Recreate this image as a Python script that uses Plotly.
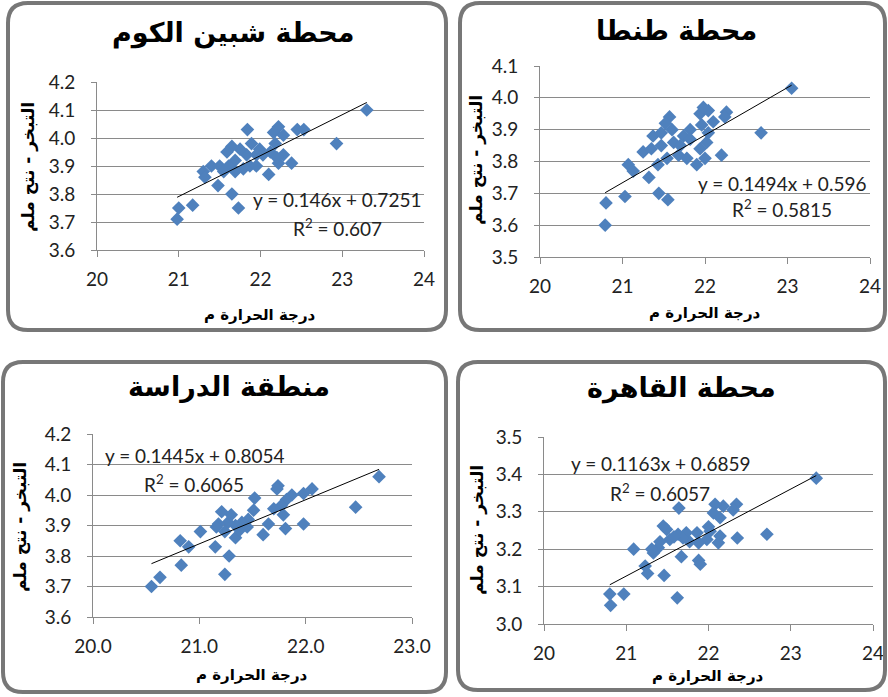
import plotly.graph_objects as go

W, H = 888, 697

# ---- data -------------------------------------------------------------
titles = ["محطة شبين الكوم", "محطة طنطا", "منطقة الدراسة", "محطة القاهرة"]
x_title = "درجة الحرارة م"
y_title = "التبخر - نتح ملم"

x_shebin = [23.30, 22.93, 21.84, 20.98, 21.00, 21.17, 21.65, 21.73, 21.30, 21.32,
            21.48, 21.40, 21.50, 22.10, 22.38, 22.22, 22.16, 22.45, 22.53, 22.28,
            22.18, 22.28, 22.22, 21.99, 21.95, 21.83, 21.75, 21.65, 21.59, 21.69,
            21.79, 21.87, 21.95, 22.03, 22.12, 21.61, 21.69, 21.55, 22.20, 21.89]
y_shebin = [4.10, 3.98, 4.03, 3.71, 3.75, 3.76, 3.80, 3.75, 3.88, 3.86,
            3.83, 3.90, 3.90, 3.87, 3.91, 4.04, 4.02, 4.03, 4.03, 4.01,
            3.98, 3.94, 3.91, 3.96, 3.94, 3.94, 3.96, 3.97, 3.95, 3.92,
            3.89, 3.90, 3.90, 3.94, 3.95, 3.90, 3.88, 3.88, 3.93, 3.98]

x_tanta = [23.05, 22.68, 21.57, 20.79, 20.80, 21.03, 21.07, 21.13, 21.32, 21.44,
           21.55, 22.20, 21.25, 21.37, 21.47, 21.47, 21.62, 21.74, 21.82, 21.54,
           21.68, 21.90, 22.00, 21.94, 22.02, 21.94, 22.04, 21.98, 22.26, 22.24,
           22.10, 21.96, 21.82, 21.70, 21.35, 21.43, 21.78, 22.04, 21.60, 21.52]
y_tanta = [4.03, 3.89, 3.94, 3.60, 3.67, 3.69, 3.79, 3.77, 3.75, 3.70,
           3.68, 3.82, 3.83, 3.88, 3.89, 3.85, 3.86, 3.88, 3.90, 3.81,
           3.82, 3.79, 3.81, 3.84, 3.86, 3.95, 3.96, 3.97, 3.955, 3.94,
           3.925, 3.915, 3.87, 3.85, 3.84, 3.79, 3.81, 3.89, 3.90, 3.92]

x_study = [22.69, 22.47, 20.55, 20.63, 20.83, 20.82, 20.90, 21.01, 21.15, 21.24,
           21.28, 21.60, 21.81, 21.98, 21.74, 21.73, 22.06, 21.98, 21.87, 21.82,
           21.77, 21.79, 21.70, 21.65, 21.52, 21.51, 21.46, 21.40, 21.34, 21.34,
           21.27, 21.21, 21.18, 21.16, 21.30, 21.38, 21.45, 21.24]
y_study = [4.06, 3.96, 3.70, 3.73, 3.77, 3.85, 3.83, 3.88, 3.83, 3.74,
           3.80, 3.87, 3.89, 3.905, 4.03, 4.02, 4.02, 4.005, 4.00, 3.985,
           3.965, 3.935, 3.955, 3.905, 3.99, 3.95, 3.92, 3.91, 3.86, 3.90,
           3.91, 3.945, 3.905, 3.895, 3.935, 3.885, 3.895, 3.88]

x_cairo = [23.31, 22.71, 21.64, 20.80, 20.81, 20.97, 21.62, 21.09, 21.23, 21.26,
           21.46, 21.67, 21.88, 21.90, 22.35, 22.34, 22.30, 22.18, 22.08, 22.06,
           22.14, 22.00, 22.14, 22.12, 21.98, 21.88, 21.86, 21.73, 21.63, 21.49,
           21.45, 21.53, 21.39, 21.33, 21.31, 21.77, 21.69, 22.02, 21.41, 21.58]
y_cairo = [3.39, 3.24, 3.31, 3.08, 3.05, 3.08, 3.07, 3.20, 3.155, 3.135,
           3.13, 3.18, 3.17, 3.16, 3.23, 3.32, 3.305, 3.315, 3.32, 3.297,
           3.284, 3.26, 3.235, 3.217, 3.226, 3.217, 3.244, 3.244, 3.24, 3.253,
           3.262, 3.226, 3.204, 3.19, 3.20, 3.22, 3.23, 3.248, 3.22, 3.233]

# linear trend coefficients (slope, intercept) and R² as labelled
slopes = [0.146, 0.1494, 0.1445, 0.1163]
intercepts = [0.7251, 0.596, 0.8054, 0.6859]
r2_labels = ["0.607", "0.5815", "0.6065", "0.6057"]

x_ranges = [[20, 24], [20, 24], [20, 23], [20, 24]]
y_ranges = [[3.6, 4.2], [3.5, 4.1], [3.6, 4.2], [3.0, 3.5]]
x_fmt = ["d", "d", ".1f", "d"]

xs = [x_shebin, x_tanta, x_study, x_cairo]
ys = [y_shebin, y_tanta, y_study, y_cairo]

# ---- layout geometry (pixels) -----------------------------------------
# plot area: left, right, top, bottom
plot_px = [(97, 424, 82, 250), (540, 870, 66, 257),
           (93, 412, 434, 617), (544, 873, 437, 624)]
# outer rounded frame: left, right, top, bottom
frame_px = [(8, 446, 3, 330), (460, 885, 3, 330),
            (3, 446, 362, 692), (458, 885, 362, 690)]
title_px = [(233, 33), (676, 30), (229, 387), (681, 388)]
ytitle_px = [(28, 167), (477, 160), (20, 527), (477, 530)]
xtitle_px = [(260, 315), (705, 313), (252, 675), (708, 676)]
eq_px = [(337, 199, 227), (782, 183, 209), (194, 456, 483), (660, 464, 492)]

BLUE = "#4F81BD"
GRID = "#8a8a8a"
FRAME = "#777777"
NUM_FONT = "Lato, Open Sans, sans-serif"
AR_FONT = "DejaVu Sans, sans-serif"


def px(x):
    return x / W


def py(y):
    return 1 - y / H


def rounded_rect(l, r, t, b, rad):
    L, R, T, B = px(l), px(r), py(t), py(b)
    rx, ry = rad / W, rad / H
    return (f"M {L+rx},{T} L {R-rx},{T} Q {R},{T} {R},{T-ry} "
            f"L {R},{B+ry} Q {R},{B} {R-rx},{B} "
            f"L {L+rx},{B} Q {L},{B} {L},{B+ry} "
            f"L {L},{T-ry} Q {L},{T} {L+rx},{T} Z")


fig = go.Figure()
shapes, annotations = [], []

for i in range(4):
    n = "" if i == 0 else str(i + 1)
    xa, ya = "x" + n, "y" + n
    l, r, t, b = plot_px[i]

    fig.add_trace(go.Scatter(
        x=xs[i], y=ys[i], mode="markers", xaxis=xa, yaxis=ya,
        marker=dict(symbol="diamond", size=10.5, color=BLUE, line=dict(width=0)),
        showlegend=False, hoverinfo="x+y"))

    x0, x1 = min(xs[i]), max(xs[i])
    fig.add_trace(go.Scatter(
        x=[x0, x1], y=[slopes[i] * x0 + intercepts[i], slopes[i] * x1 + intercepts[i]],
        mode="lines", xaxis=xa, yaxis=ya, line=dict(color="black", width=1),
        showlegend=False, hoverinfo="skip"))

    axis_common = dict(showline=True, linecolor=GRID, linewidth=1, ticks="outside",
                       tickcolor=GRID, zeroline=False, automargin=False,
                       tickfont=dict(family=NUM_FONT, size=19, color="#222222"))
    fig.layout["xaxis" + n] = dict(
        axis_common, domain=[px(l), px(r)], range=x_ranges[i], dtick=1,
        tick0=x_ranges[i][0], tickformat=x_fmt[i], showgrid=False, ticklen=6,
        anchor=ya, ticklabelstandoff=6)
    fig.layout["yaxis" + n] = dict(
        axis_common, domain=[py(b), py(t)], range=y_ranges[i], dtick=0.1,
        tick0=y_ranges[i][0], tickformat=".1f", showgrid=True, gridcolor=GRID,
        gridwidth=1, ticklen=5, anchor=xa, ticklabelstandoff=12)

    fl, fr, ft, fb = frame_px[i]
    shapes.append(dict(type="path", xref="paper", yref="paper",
                       path=rounded_rect(fl, fr, ft, fb, 20),
                       line=dict(color=FRAME, width=4), layer="above"))

    tx, ty = title_px[i]
    annotations.append(dict(x=px(tx), y=py(ty), xref="paper", yref="paper",
                            text="<b>" + titles[i] + "</b>", showarrow=False,
                            font=dict(family=AR_FONT, size=27, color="black"),
                            xanchor="center", yanchor="middle"))
    yx, yy = ytitle_px[i]
    annotations.append(dict(x=px(yx), y=py(yy), xref="paper", yref="paper",
                            text="<b>" + y_title + "</b>", showarrow=False,
                            textangle=-90,
                            font=dict(family=AR_FONT, size=17, color="black"),
                            xanchor="center", yanchor="middle"))
    xx, xy = xtitle_px[i]
    annotations.append(dict(x=px(xx), y=py(xy), xref="paper", yref="paper",
                            text="<b>" + x_title + "</b>", showarrow=False,
                            font=dict(family=AR_FONT, size=15, color="black"),
                            xanchor="center", yanchor="middle"))
    ex, ey1, ey2 = eq_px[i]
    annotations.append(dict(x=px(ex), y=py(ey1), xref="paper", yref="paper",
                            text=f"y = {slopes[i]}x + {intercepts[i]}",
                            showarrow=False,
                            font=dict(family=NUM_FONT, size=19, color="#222222"),
                            xanchor="center", yanchor="middle"))
    annotations.append(dict(x=px(ex), y=py(ey2), xref="paper", yref="paper",
                            text=f"R<sup>2</sup> = {r2_labels[i]}",
                            showarrow=False,
                            font=dict(family=NUM_FONT, size=19, color="#222222"),
                            xanchor="center", yanchor="middle"))

fig.update_layout(width=W, height=H, autosize=False,
                  margin=dict(l=0, r=0, t=0, b=0, pad=0, autoexpand=False),
                  paper_bgcolor="white", plot_bgcolor="white",
                  shapes=shapes, annotations=annotations)

fig.write_html("out.html",
               post_script="document.body.style.margin='0';"
                           "document.body.style.overflow='hidden';")
